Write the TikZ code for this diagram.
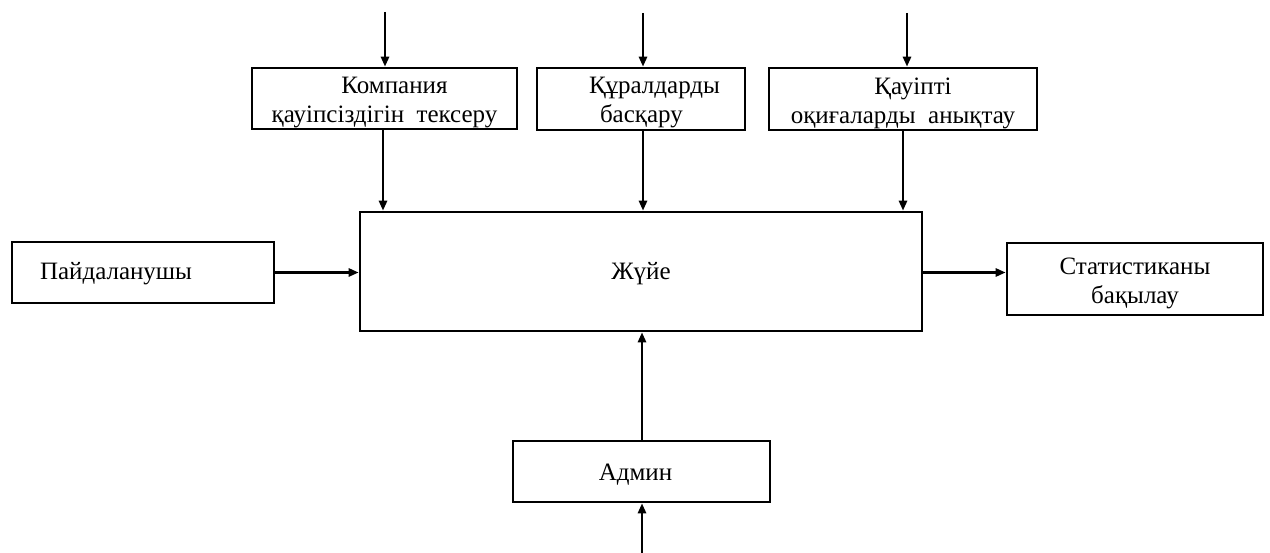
\documentclass[tikz,border=0pt]{standalone}
\usepackage{fontspec}
\setmainfont{Liberation Serif}
\usetikzlibrary{arrows.meta}
\begin{document}
\begin{tikzpicture}[x=1pt,y=-1pt,
  blk/.style={draw=black, line width=2.6pt, fill=white, inner sep=0pt},
  txt/.style={inner sep=0pt, align=center, font=\fontsize{25}{29}\selectfont},
  arr/.style={line width=2.6pt, -{Triangle[length=10pt,width=8pt]}}]
\useasboundingbox (0,0) rectangle (1270,553);
% boxes
\node[blk, minimum width=265, minimum height=61] (k1) at (384.5,98.5) {};
\node[txt, yshift=-4pt] (k1t) at (k1.center) {\hspace*{20pt}Компания\\қауіпсіздігін\ \ тексеру};
\node[blk, minimum width=208, minimum height=62] (k2) at (641,99) {};
\node[txt, yshift=-4pt, text width=150, align=left] (k2t) at (k2.center) {\hspace*{23pt}Құралдарды\\\hspace*{34pt}басқару};
\node[blk, minimum width=268, minimum height=62] (k3) at (903,99) {};
\node[txt, yshift=-4pt] (k3t) at (k3.center) {\hspace*{20pt}Қауіпті\\оқиғаларды\ \ анықтау};
\node[blk, minimum width=562, minimum height=119] (main) at (641,271.5) {};
\node[txt, yshift=-2pt] (maint) at (main.center) {Жүйе};
\node[blk, minimum width=262, minimum height=61] (user) at (143,272.5) {};
\node[txt, text width=206, align=left, yshift=-1pt] (usert) at (user.center) {Пайдаланушы};
\node[blk, minimum width=256, minimum height=72] (stat) at (1135,279) {};
\node[txt, yshift=-4pt] (statt) at (stat.center) {Статистиканы\\бақылау};
\node[blk, minimum width=257, minimum height=61] (admin) at (641.5,471.5) {};
\node[txt, xshift=-6pt, yshift=-3pt] (admint) at (admin.center) {Админ};
% free ends
\coordinate (t1) at (385,12);
\coordinate (t2) at (643,13);
\coordinate (t3) at (907,13);
\coordinate (b0) at (642,553);
% connectors
\draw[arr] (t1) -- (k1.north -| t1);
\draw[arr] (t2) -- (k2.north -| t2);
\draw[arr] (t3) -- (k3.north -| t3);
\draw[arr] (383,129) coordinate (s1) (k1.south -| s1) -- (main.north -| s1);
\draw[arr] (k2.south -| t2) -- (main.north -| t2);
\draw[arr] (903,130) coordinate (s3) (k3.south -| s3) -- (main.north -| s3);
\draw[arr] (user.east) -- (main.west |- user.east);
\draw[arr] (main.east |- user.east) -- (stat.west |- user.east);
\draw[arr] (admin.north -| b0) -- (main.south -| b0);
\draw[arr] (b0) -- (admin.south -| b0);
\end{tikzpicture}
\end{document}
